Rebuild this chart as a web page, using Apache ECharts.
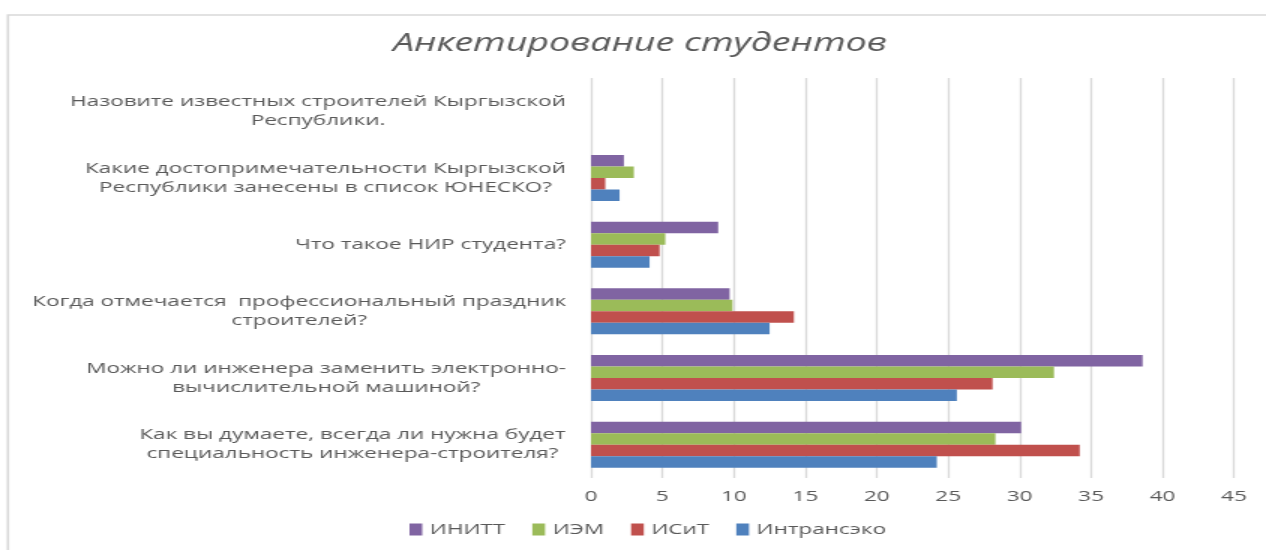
<!DOCTYPE html>
<html>
<head>
<meta charset="utf-8">
<script src="https://cdn.jsdelivr.net/npm/echarts@6/dist/echarts.min.js"></script>
<style>
  html, body { margin: 0; padding: 0; background: #ffffff; overflow: hidden; }
  #wrap { width: 1266px; height: 550px; overflow: hidden; position: relative; }
  #chart { width: 844px; height: 550px; transform: scaleX(1.5); transform-origin: 0 0; }
</style>
</head>
<body>
<div id="wrap"><div id="chart"></div></div>
<script>
// ---- data ----
const titleText = 'Анкетирование студентов';
const categories = [
  'Как вы думаете, всегда ли нужна будет\nспециальность инженера-строителя?',
  'Можно ли инженера заменить электронно-\nвычислительной машиной?',
  'Когда отмечается  профессиональный праздник\nстроителей?',
  'Что такое НИР студента?',
  'Какие достопримечательности Кыргызской\nРеспублики занесены в список ЮНЕСКО?',
  'Назовите известных строителей Кыргызской\nРеспублики.'
];
const seriesNames = ['ИНИТТ', 'ИЭМ', 'ИСиТ', 'Интрансэко'];
const initt      = [30.1, 38.6, 9.7, 8.9, 2.3, 0];
const iem        = [28.3, 32.4, 9.9, 5.2, 3.0, 0];
const isit       = [34.2, 28.1, 14.2, 4.8, 1.0, 0];
const intransako = [24.2, 25.6, 12.5, 4.1, 2.0, 0];
const xTicks = { min: 0, max: 45, interval: 5 };

// ---- styling ----
const colors = ['#8064A2', '#9BBB59', '#C0504D', '#4F81BD'];
const textColor = '#595959';
const fontFamily = '"Open Sans", "Noto Sans", sans-serif';
const labelFont = 15;

// measure label lines to center the wrapped lines as in the original
const ctx = document.createElement('canvas').getContext('2d');
ctx.font = labelFont + 'px ' + fontFamily;
const rich = {};
categories.forEach(function (c, i) {
  const w = Math.max.apply(null, c.split('\n').map(function (l) { return ctx.measureText(l).width; }));
  rich['c' + i] = { width: Math.ceil(w) + 1, align: 'center', fontSize: labelFont, fontFamily: fontFamily, color: textColor, lineHeight: 19 };
});

const chart = echarts.init(document.getElementById('chart'), null, { renderer: 'canvas' });
const allSeries = [initt, iem, isit, intransako];

chart.setOption({
  backgroundColor: '#ffffff',
  animation: false,
  color: colors,
  graphic: [{
    type: 'rect',
    shape: { x: 5.3, y: 15, width: 1000, height: 700 },
    style: { fill: 'none', stroke: '#d9d9d9', lineWidth: 1.6 },
    silent: true
  }],
  title: {
    text: titleText,
    left: 262,
    top: 31,
    padding: 0,
    textStyle: { fontFamily: fontFamily, fontStyle: 'italic', fontWeight: 'normal', fontSize: 25, color: textColor }
  },
  legend: {
    data: seriesNames,
    left: 273,
    top: 522,
    padding: 0,
    itemWidth: 8.5,
    itemHeight: 12,
    itemGap: 18,
    icon: 'rect',
    textStyle: { fontFamily: fontFamily, fontSize: 15, color: textColor }
  },
  grid: { left: 394, right: 21.3, top: 78, bottom: 72, containLabel: false },
  xAxis: {
    type: 'value',
    min: xTicks.min,
    max: xTicks.max,
    interval: xTicks.interval,
    axisLine: { show: false },
    axisTick: { show: false },
    axisLabel: { margin: 11, fontFamily: fontFamily, fontSize: 15, color: textColor },
    splitLine: { show: true, lineStyle: { color: '#d9d9d9', width: 1.3 } }
  },
  yAxis: {
    type: 'category',
    data: categories,
    axisLine: { show: false },
    axisTick: { show: false },
    axisLabel: {
      margin: 16,
      formatter: function (value, index) {
        return value.split('\n').map(function (l) { return '{c' + index + '|' + l + '}'; }).join('\n');
      },
      rich: rich
    }
  },
  series: seriesNames.map(function (name, i) {
    return {
      name: name,
      type: 'bar',
      data: allSeries[i],
      barGap: '0%',
      barCategoryGap: '31%',
      itemStyle: { color: colors[i] }
    };
  })
});
</script>
</body>
</html>
